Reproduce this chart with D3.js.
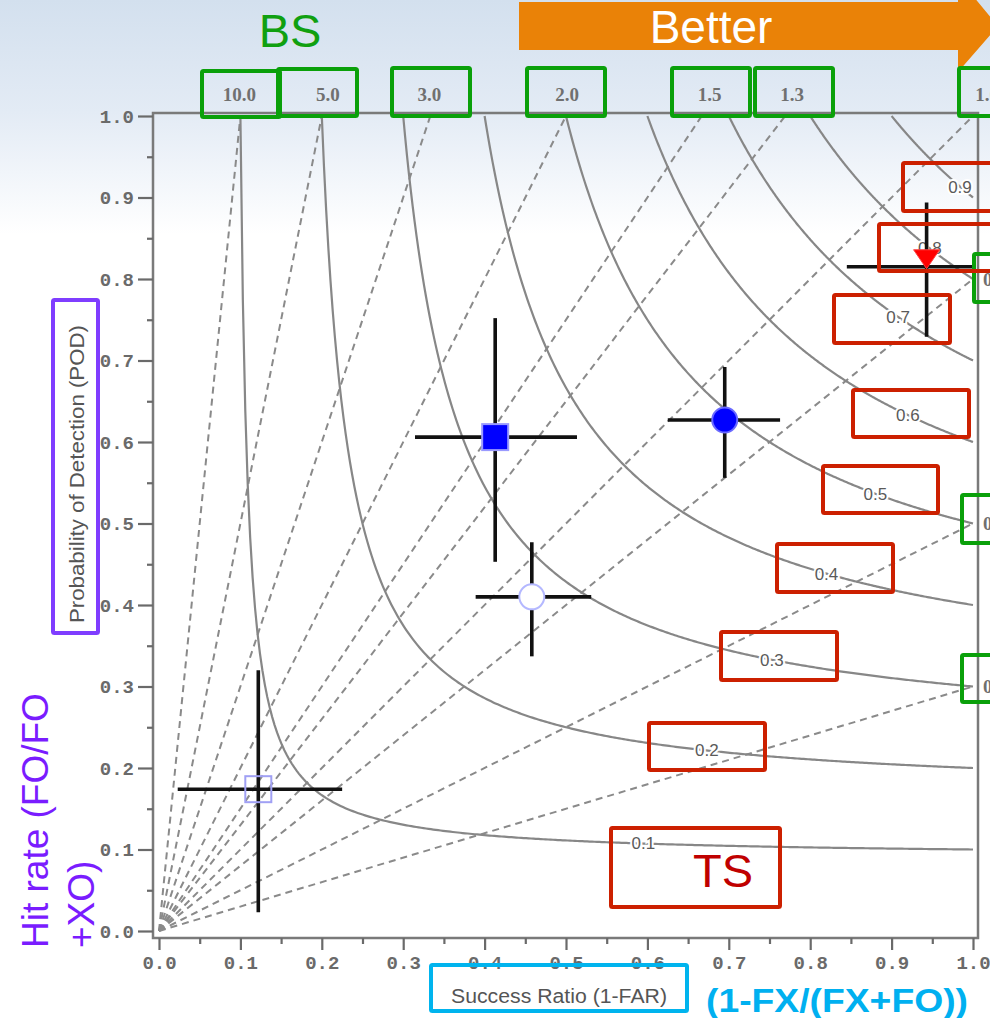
<!DOCTYPE html>
<html><head><meta charset="utf-8">
<script src="https://cdn.jsdelivr.net/npm/d3@7"></script>
<style>html,body{margin:0;padding:0;background:#fff;overflow:hidden}</style>
</head><body>
<svg id="chart" width="990" height="1018"></svg>
<script>
// ---------- data ----------
const tsLevels = [0.1, 0.2, 0.3, 0.4, 0.5, 0.6, 0.7, 0.8, 0.9];
const tsLabels = ["0.1", "0.2", "0.3", "0.4", "0.5", "0.6", "0.7", "0.8", "0.9"];
const biasLevels = [10, 5, 3, 2, 1.5, 1.3, 1, 0.8, 0.5, 0.3];
const biasLabels = ["10.0", "5.0", "3.0", "2.0", "1.5", "1.3", "1.0", "0.8", "0.5", "0.3"];
const axisTicks = [0, 0.1, 0.2, 0.3, 0.4, 0.5, 0.6, 0.7, 0.8, 0.9, 1.0];
const minorTicks = [0.05, 0.15, 0.25, 0.35, 0.45, 0.55, 0.65, 0.75, 0.85, 0.95];

const pointSR  = [0.413, 0.458, 0.695, 0.943, 0.122];
const pointPOD = [0.606, 0.410, 0.627, 0.815, 0.174];
const srLow    = [0.3145, 0.389, 0.625, 0.845, 0.023];
const srHigh   = [0.5135, 0.531, 0.763, 1.000, 0.225];
const podLow   = [0.453, 0.337, 0.556, 0.729, 0.023];
const podHigh  = [0.752, 0.477, 0.692, 0.894, 0.320];

// ---------- layout / style ----------
const pointShape  = ["square", "circle", "circle", "triDown", "square"];
const pointFill   = ["#0000ff", "#ffffff", "#0000ff", "#ff0000", "none"];
const pointStroke = ["#9a9aff", "#b4b8ff", "#6a6aff", "#ff4040", "#a0a0f4"];
const tsLabelSR = [0.595, 0.673, 0.753, 0.82, 0.88, 0.92, 0.908, 0.947, 0.984];
const biasLabelDx = [-1, 6, -1, 1, 8, 7, 14];

const svg = d3.select("#chart");
const W = 990, H = 1018;

// background gradient
const defs = svg.append("defs");
const grad = defs.append("linearGradient").attr("id", "bg").attr("x1", 0).attr("y1", 0).attr("x2", 0).attr("y2", 1);
grad.append("stop").attr("offset", "0").attr("stop-color", "#d3e0ee");
grad.append("stop").attr("offset", "0.11").attr("stop-color", "#e3ebf5");
grad.append("stop").attr("offset", "0.23").attr("stop-color", "#ffffff");
grad.append("stop").attr("offset", "1").attr("stop-color", "#ffffff");
svg.append("rect").attr("width", W).attr("height", H).attr("fill", "url(#bg)");

const x = d3.scaleLinear().domain([0, 1]).range([159, 973]);
const y = d3.scaleLinear().domain([0, 1]).range([931, 116]);

const frame = {l: 153, r: 978, t: 113, b: 938};

// bias (dashed) lines
const g = svg.append("g");
g.selectAll("line.bias").data(biasLevels).join("line")
  .attr("class", "bias")
  .attr("x1", x(0)).attr("y1", y(0))
  .attr("x2", b => x(Math.min(1, 1 / b)))
  .attr("y2", b => y(Math.min(1, b)))
  .attr("stroke", "#8a8a8a").attr("stroke-width", 2)
  .attr("stroke-dasharray", "7,5");

// TS curves
const line = d3.line().x(d => x(d[0])).y(d => y(d[1]));
tsLevels.forEach(c => {
  const pts = d3.range(0, 301).map(i => {
    const sr = c + (1 - c) * i / 300;
    const pod = 1 / (1 / c + 1 - 1 / sr);
    return [sr, Math.min(1, pod)];
  });
  g.append("path").attr("d", line(pts)).attr("fill", "none")
    .attr("stroke", "#878787").attr("stroke-width", 2.2);
});

// TS labels
g.selectAll("text.ts").data(tsLevels).join("text")
  .attr("class", "ts")
  .attr("x", (c, i) => x(tsLabelSR[i]))
  .attr("y", (c, i) => y(1 / (1 / c + 1 - 1 / tsLabelSR[i])))
  .attr("dy", "0.35em")
  .attr("text-anchor", "middle")
  .attr("font-family", "Liberation Sans, Arial, sans-serif")
  .attr("font-size", 17)
  .attr("fill", "#5a5a5a")
  .attr("stroke", "#ffffff").attr("stroke-width", 4).attr("paint-order", "stroke")
  .text((c, i) => tsLabels[i]);

// frame
svg.append("rect").attr("x", frame.l).attr("y", frame.t)
  .attr("width", frame.r - frame.l).attr("height", frame.b - frame.t)
  .attr("fill", "none").attr("stroke", "#7a7a7a").attr("stroke-width", 2.5);

// axes
const tickFont = "Liberation Mono, Courier New, monospace";
const xAxis = svg.append("g").attr("transform", `translate(0,${frame.b})`)
  .call(d3.axisBottom(x).tickValues(axisTicks).tickSize(12).tickPadding(6).tickFormat(d3.format(".1f")));
const xMinor = svg.append("g").attr("transform", `translate(0,${frame.b})`)
  .call(d3.axisBottom(x).tickValues(minorTicks).tickSize(6).tickFormat(""));
const yAxis = svg.append("g").attr("transform", `translate(${frame.l},0)`)
  .call(d3.axisLeft(y).tickValues(axisTicks).tickSize(15).tickPadding(4).tickFormat(d3.format(".1f")));
const yMinor = svg.append("g").attr("transform", `translate(${frame.l},0)`)
  .call(d3.axisLeft(y).tickValues(minorTicks).tickSize(6).tickFormat(""));
[xAxis, xMinor, yAxis, yMinor].forEach(a => {
  a.select(".domain").remove();
  a.selectAll("line").attr("stroke", "#6a6a6a").attr("stroke-width", 2.2);
  a.selectAll("text").attr("font-family", tickFont).attr("font-weight", "bold")
    .attr("font-size", 19).attr("fill", "#6a6a6a");
});

// bias labels (top and right)
const biasFont = "Liberation Serif, Times New Roman, serif";
biasLevels.forEach((b, i) => {
  if (b >= 1) {
    svg.append("text").attr("x", x(1 / b) + biasLabelDx[i]).attr("y", 101)
      .attr("text-anchor", "middle").attr("font-family", biasFont).attr("font-weight", "bold")
      .attr("font-size", 19).attr("fill", "#707070")
      .text(biasLabels[i]);
  } else {
    svg.append("text").attr("x", x(1) + 10).attr("y", y(b)).attr("dy", "0.35em")
      .attr("font-family", biasFont).attr("font-weight", "bold")
      .attr("font-size", 19).attr("fill", "#707070")
      .text(biasLabels[i]);
  }
});

// error bars
const eb = svg.append("g");
pointSR.forEach((sr, i) => {
  eb.append("line").attr("x1", x(srLow[i])).attr("x2", x(srHigh[i]))
    .attr("y1", y(pointPOD[i])).attr("y2", y(pointPOD[i]))
    .attr("stroke", "#111").attr("stroke-width", 3.6);
  eb.append("line").attr("x1", x(sr)).attr("x2", x(sr))
    .attr("y1", y(podLow[i])).attr("y2", y(podHigh[i]))
    .attr("stroke", "#111").attr("stroke-width", 3.6);
});

// markers
pointSR.forEach((sr, i) => {
  const cx = x(sr), cy = y(pointPOD[i]);
  const s = pointShape[i];
  if (s === "square") {
    eb.append("rect").attr("x", cx - 13).attr("y", cy - 13).attr("width", 26).attr("height", 26)
      .attr("fill", pointFill[i]).attr("stroke", pointStroke[i]).attr("stroke-width", 2);
  } else if (s === "circle") {
    eb.append("circle").attr("cx", cx).attr("cy", cy).attr("r", 12.5)
      .attr("fill", pointFill[i]).attr("stroke", pointStroke[i]).attr("stroke-width", 2);
  } else {
    eb.append("path").attr("d", `M${cx - 13},${cy - 17}L${cx + 13},${cy - 17}L${cx},${cy + 2}Z`)
      .attr("fill", pointFill[i]).attr("stroke", pointStroke[i]).attr("stroke-width", 1);
  }
});

// ---------- annotations ----------
const ann = svg.append("g");
// orange arrow
ann.append("path")
  .attr("d", "M519,2 L958,2 L958,-22 L998,26 L958,72 L958,50 L519,50 Z")
  .attr("fill", "#ea8207");
ann.append("text").attr("x", 711).attr("y", 43).attr("text-anchor", "middle")
  .attr("font-family", "Liberation Sans, Arial, sans-serif").attr("font-size", 46)
  .attr("fill", "#ffffff").text("Better");
ann.append("text").attr("x", 290).attr("y", 47).attr("text-anchor", "middle")
  .attr("font-family", "Liberation Sans, Arial, sans-serif").attr("font-size", 47)
  .attr("fill", "#10a010").text("BS");

const greenBoxes = [[202,71,280,117],[278,69,357,116],[392,68,470,116],[527,68,605,116],[672,68,750,116],[755,68,833,116],[959,68,1004,116],[974,254,1004,302],[962,495,1004,543],[962,655,1004,702]];
ann.selectAll("rect.gb").data(greenBoxes).join("rect").attr("class", "gb")
  .attr("x", d => d[0]).attr("y", d => d[1]).attr("width", d => d[2] - d[0]).attr("height", d => d[3] - d[1])
  .attr("fill", "none").attr("stroke", "#0aa00a").attr("stroke-width", 4).attr("rx", 1.5);

const redBoxes = [[903,163,1004,211],[879,224,1004,271],[834,295,950,343],[853,390,969,437],[823,466,938,513],[777,544,893,592],[721,632,837,680],[649,723,765,770],[611,828,780,907]];
ann.selectAll("rect.rb").data(redBoxes).join("rect").attr("class", "rb")
  .attr("x", d => d[0]).attr("y", d => d[1]).attr("width", d => d[2] - d[0]).attr("height", d => d[3] - d[1])
  .attr("fill", "none").attr("stroke", "#cc2000").attr("stroke-width", 4).attr("rx", 1.5);
ann.append("text").attr("x", 693).attr("y", 887)
  .attr("font-family", "Liberation Sans, Arial, sans-serif").attr("font-size", 47)
  .attr("fill", "#c00000").text("TS");

// y axis title + purple box
ann.append("rect").attr("x", 53).attr("y", 300).attr("width", 45).attr("height", 333)
  .attr("fill", "none").attr("stroke", "#7f3dff").attr("stroke-width", 4).attr("rx", 1.5);
ann.append("text").attr("transform", "translate(84,623) rotate(-90)")
  .attr("font-family", "Liberation Sans, Arial, sans-serif").attr("font-size", 21)
  .attr("textLength", 298).attr("lengthAdjust", "spacingAndGlyphs")
  .attr("fill", "#555").text("Probability of Detection (POD)");
ann.append("text").attr("transform", "translate(48,948) rotate(-90)")
  .attr("font-family", "Liberation Sans, Arial, sans-serif").attr("font-size", 37)
  .attr("fill", "#7a1cff").text("Hit rate (FO/FO");
ann.append("text").attr("transform", "translate(94,948) rotate(-90)")
  .attr("font-family", "Liberation Sans, Arial, sans-serif").attr("font-size", 37)
  .attr("fill", "#7a1cff").text("+XO)");

// x axis title + cyan box
ann.append("rect").attr("x", 431).attr("y", 965).attr("width", 256).attr("height", 46)
  .attr("fill", "none").attr("stroke", "#00b4ee").attr("stroke-width", 4).attr("rx", 1.5);
ann.append("text").attr("x", 451).attr("y", 1003)
  .attr("font-family", "Liberation Sans, Arial, sans-serif").attr("font-size", 20)
  .attr("textLength", 216).attr("lengthAdjust", "spacingAndGlyphs")
  .attr("fill", "#555").text("Success Ratio (1-FAR)");
ann.append("text").attr("x", 706).attr("y", 1012)
  .attr("font-family", "Liberation Sans, Arial, sans-serif").attr("font-size", 33).attr("font-weight", "bold")
  .attr("textLength", 262).attr("lengthAdjust", "spacingAndGlyphs")
  .attr("fill", "#00b0f0").text("(1-FX/(FX+FO))");
</script>
</body></html>
